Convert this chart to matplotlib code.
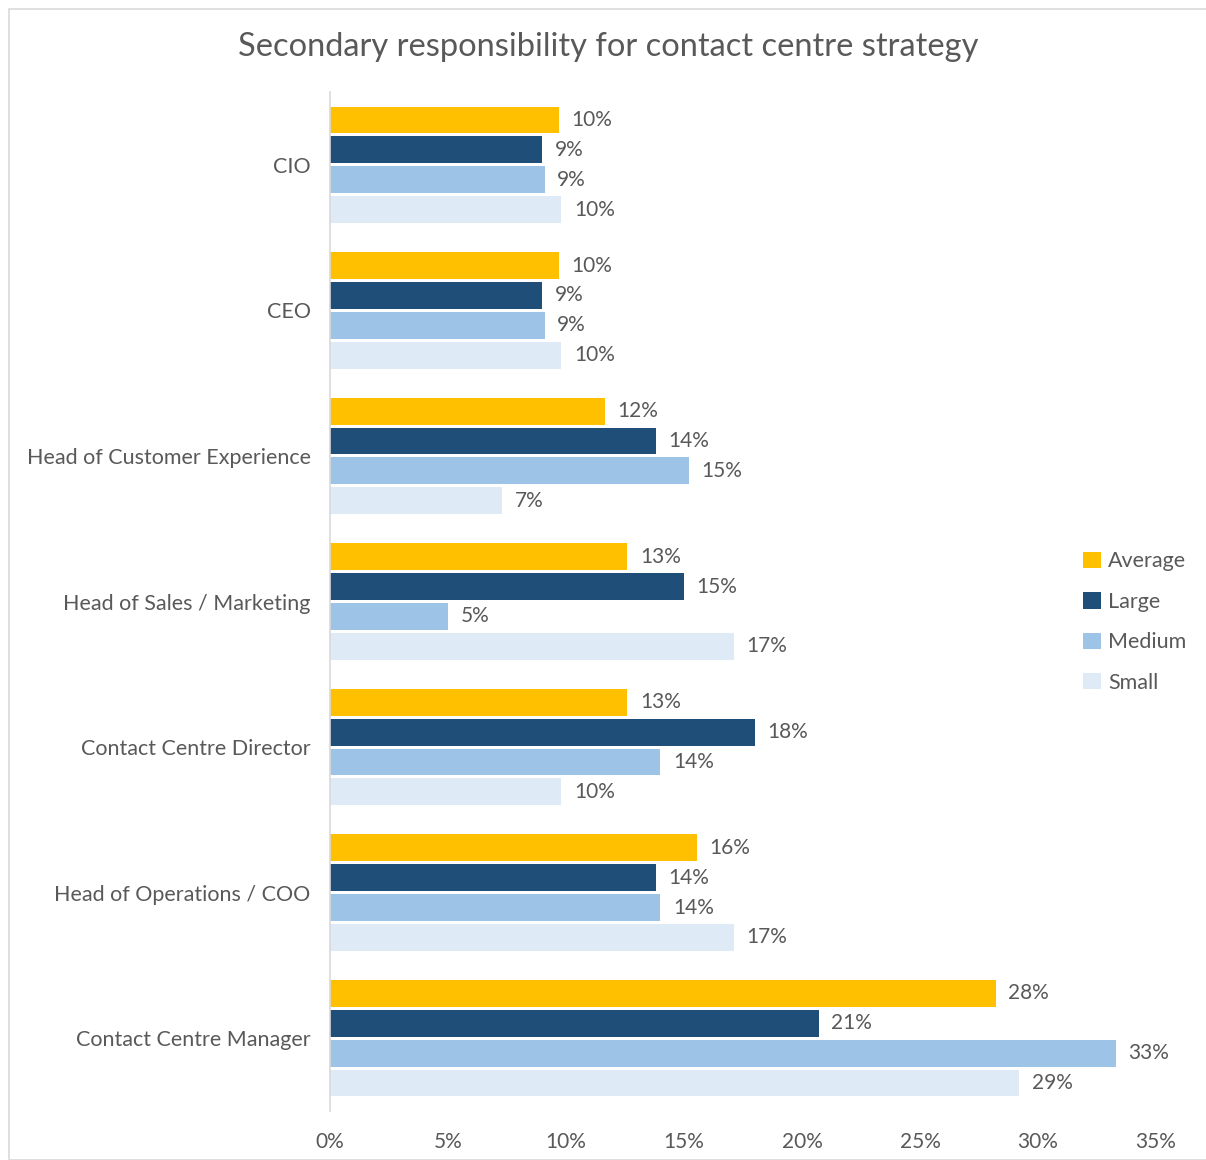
import matplotlib
matplotlib.use("Agg")
import matplotlib.pyplot as plt
from matplotlib.patches import Rectangle, Patch
import numpy as np

categories = ["CIO", "CEO", "Head of Customer Experience", "Head of Sales / Marketing",
              "Contact Centre Director", "Head of Operations / COO", "Contact Centre Manager"]
series_names = ["Average", "Large", "Medium", "Small"]
average = [9.7, 9.7, 11.65, 12.6, 12.6, 15.55, 28.2]
large = [9.0, 9.0, 13.8, 15.0, 18.0, 13.8, 20.7]
medium = [9.1, 9.1, 15.2, 5.0, 14.0, 14.0, 33.3]
small = [9.8, 9.8, 7.3, 17.1, 9.8, 17.1, 29.2]
xticks = [0, 5, 10, 15, 20, 25, 30, 35]

colors = ["#FFC000", "#1F4E79", "#9DC3E6", "#DEEBF7"]
text_color = "#595959"
font = "Lato"

W, H = 1206, 1160
fig = plt.figure(figsize=(W / 100, H / 100), dpi=100)
fig.patches.append(Rectangle((9 / W, 0), 1.0, 1 - 9 / H, transform=fig.transFigure,
                             fill=False, edgecolor="#D9D9D9", linewidth=1.2))

ax = fig.add_axes([330 / W, 1 - 1111 / H, (1156 - 330) / W, (1111 - 92) / H])
y = np.arange(len(categories))
pitch = 0.205
height = 0.185
all_series = [average, large, medium, small]
for k, (vals, c, name) in enumerate(zip(all_series, colors, series_names)):
    bars = ax.barh(y + (k - 1.5) * pitch, vals, height=height, color=c, label=name)
    ax.bar_label(bars, labels=[f"{v:.0f}%" for v in vals], padding=9,
                 fontsize=15, color=text_color, family=font)

ax.set_ylim(len(categories) - 0.5, -0.5)
ax.set_xlim(0, 35)
ax.set_yticks(y)
ax.set_yticklabels(categories, fontsize=15.5, color=text_color, family=font)
ax.set_xticks(xticks)
ax.set_xticklabels([f"{t}%" for t in xticks], fontsize=15, color=text_color, family=font)
ax.tick_params(axis="both", length=0)
ax.tick_params(axis="y", pad=14)
ax.tick_params(axis="x", pad=15)
for s in ["top", "right", "bottom"]:
    ax.spines[s].set_visible(False)
ax.spines["left"].set_color("#D9D9D9")
ax.spines["left"].set_linewidth(1.2)

fig.text(608 / W, 1 - 47 / H, "Secondary responsibility for contact centre strategy",
         ha="center", va="center", fontsize=23.5, color=text_color, family=font)

handles = [Patch(facecolor=c, edgecolor="none", label=n) for c, n in zip(colors, series_names)]
fig.legend(handles=handles, loc="upper left", bbox_to_anchor=(1064 / W, 1 - 532 / H),
           frameon=False, labelcolor=text_color,
           handlelength=0.8, handleheight=0.8, handletextpad=0.35, labelspacing=0.95,
           prop={"family": font, "size": 15.5})

fig.savefig("out.png", dpi=100)
